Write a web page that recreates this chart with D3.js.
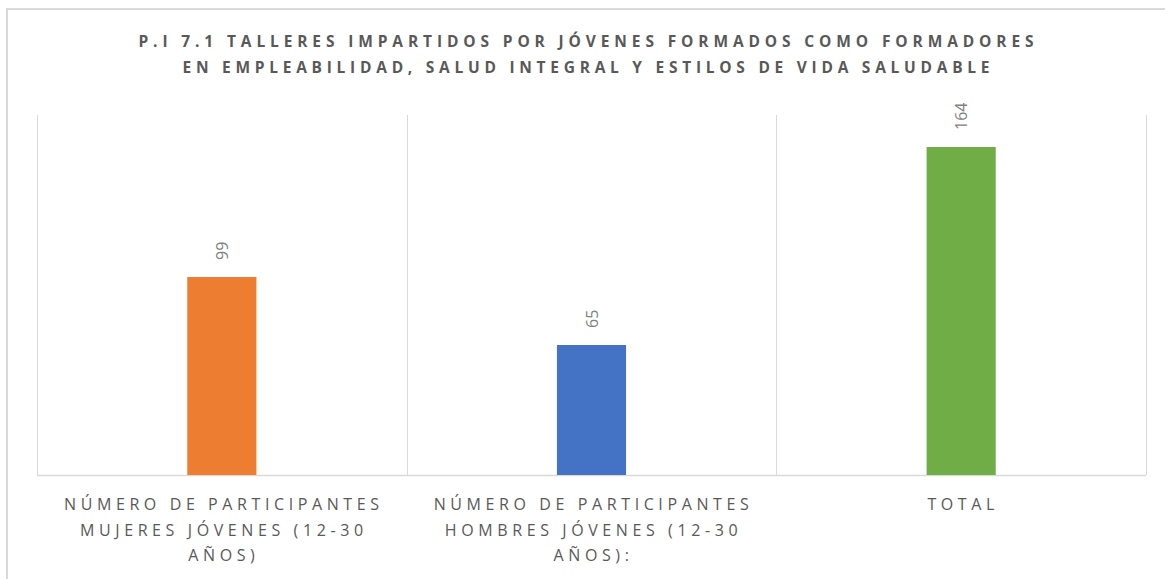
<!DOCTYPE html>
<html>
<head>
<meta charset="utf-8">
<script src="https://cdn.jsdelivr.net/npm/d3@7"></script>
<style>
  body { margin: 0; background: #fff; }
  svg { display: block; }
</style>
</head>
<body>
<div id="chart"></div>
<script>
const titleLines = [
  "P.I 7.1 TALLERES IMPARTIDOS POR JÓVENES FORMADOS COMO FORMADORES",
  "EN EMPLEABILIDAD, SALUD INTEGRAL Y ESTILOS DE VIDA SALUDABLE"
];
const titleWidths = [895, 807];
const categories = [
  "NÚMERO DE PARTICIPANTES MUJERES JÓVENES (12-30 AÑOS)",
  "NÚMERO DE PARTICIPANTES HOMBRES JÓVENES (12-30 AÑOS):",
  "TOTAL"
];
const values = [99, 65, 164];
const colors = ["#ed7d31", "#4472c4", "#70ad47"];
const yMax = 180;

const width = 1165, height = 579;
const margin = {top: 115, right: 19, bottom: 104, left: 37};

const svg = d3.select("#chart").append("svg")
    .attr("width", width)
    .attr("height", height);

// chart border (right and bottom edges fall outside the picture)
svg.append("rect")
    .attr("x", 7).attr("y", 9)
    .attr("width", 1200).attr("height", 700)
    .attr("fill", "none")
    .attr("stroke", "#d9d9d9")
    .attr("stroke-width", 2);

const x = d3.scaleBand()
    .domain(categories)
    .range([margin.left, width - margin.right])
    .paddingInner(0.813)
    .paddingOuter(0.4065);

const y = d3.scaleLinear()
    .domain([0, yMax])
    .range([height - margin.bottom, margin.top]);

// vertical category separators
const seps = d3.range(categories.length + 1).map(i => margin.left + i * (width - margin.left - margin.right) / categories.length);
svg.append("g").selectAll("line")
    .data(seps)
    .enter().append("line")
    .attr("x1", d => Math.round(d) + 0.5)
    .attr("x2", d => Math.round(d) + 0.5)
    .attr("y1", y(yMax))
    .attr("y2", y(0))
    .attr("stroke", "#d9d9d9")
    .attr("stroke-width", 1);

// baseline
svg.append("line")
    .attr("x1", margin.left).attr("x2", width - margin.right)
    .attr("y1", y(0) + 0.5).attr("y2", y(0) + 0.5)
    .attr("stroke", "#d9d9d9")
    .attr("stroke-width", 1.5);

// bars
svg.append("g").selectAll("rect")
    .data(values)
    .enter().append("rect")
    .attr("x", (d, i) => x(categories[i]))
    .attr("y", d => y(d))
    .attr("width", x.bandwidth())
    .attr("height", d => y(0) - y(d))
    .attr("fill", (d, i) => colors[i]);

// value labels (rotated)
svg.append("g").selectAll("text")
    .data(values)
    .enter().append("text")
    .attr("transform", (d, i) => `translate(${x(categories[i]) + x.bandwidth() / 2 + 6},${y(d) - 17}) rotate(-90)`)
    .attr("text-anchor", "start")
    .attr("font-family", "Open Sans, sans-serif")
    .attr("font-size", 16)
    .attr("fill", "#7f7f7f")
    .text(d => d);

// title
svg.append("g").selectAll("text")
    .data(titleLines)
    .enter().append("text")
    .attr("x", (d, i) => 586 - titleWidths[i] / 2)
    .attr("y", (d, i) => 47 + i * 26)
    .attr("textLength", (d, i) => titleWidths[i])
    .attr("lengthAdjust", "spacing")
    .attr("font-family", "Open Sans, sans-serif")
    .attr("font-weight", "bold")
    .attr("font-size", 15.5)
    .attr("fill", "#595959")
    .text(d => d);

// category labels with wrapping
const labels = svg.append("g").selectAll("text")
    .data(categories)
    .enter().append("text")
    .attr("x", d => x(d) + x.bandwidth() / 2 + 2)
    .attr("y", y(0) + 35)
    .attr("text-anchor", "middle")
    .attr("font-family", "Open Sans, sans-serif")
    .attr("font-size", 16)
    .attr("letter-spacing", 4.6)
    .attr("fill", "#595959");

labels.each(function(d) {
  const el = d3.select(this);
  const cx = +el.attr("x");
  const words = d.split(" ");
  let line = [];
  let tspan = el.append("tspan").attr("x", cx).attr("dy", 0);
  words.forEach(w => {
    line.push(w);
    tspan.text(line.join(" "));
    if (tspan.node().getComputedTextLength() > 350 && line.length > 1) {
      line.pop();
      tspan.text(line.join(" "));
      line = [w];
      tspan = el.append("tspan").attr("x", cx).attr("dy", 25.5).text(w);
    }
  });
});
</script>
</body>
</html>
